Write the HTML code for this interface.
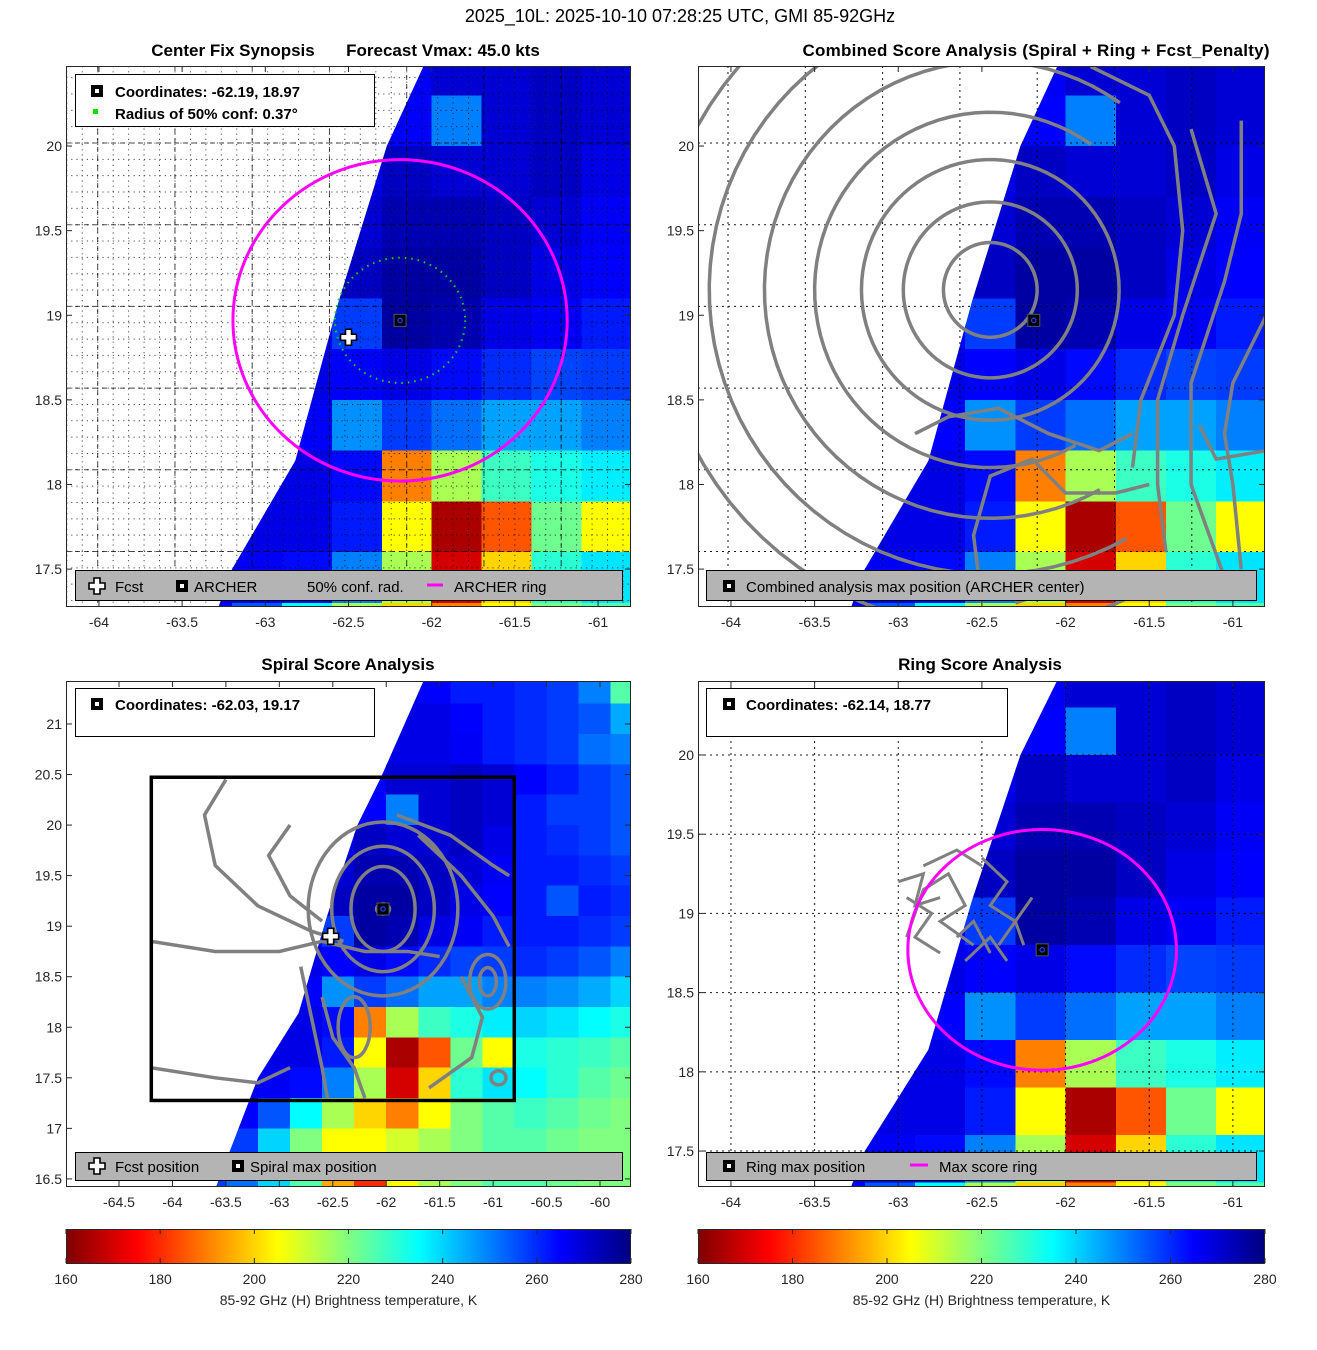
<!DOCTYPE html>
<html><head><meta charset="utf-8"><style>
html,body{margin:0;padding:0;background:#fff;}
svg{display:block;font-family:"Liberation Sans","DejaVu Sans",sans-serif;}
</style></head><body>
<svg id="fig" xmlns="http://www.w3.org/2000/svg" width="1317" height="1350" viewBox="0 0 1317 1350">
<text x="680" y="22" font-size="18" text-anchor="middle" fill="#000">2025_10L: 2025-10-10 07:28:25 UTC, GMI 85-92GHz</text>
<text x="233" y="56" font-size="17" font-weight="bold" text-anchor="middle">Center Fix Synopsis</text>
<text x="443" y="56" font-size="17" font-weight="bold" text-anchor="middle">Forecast Vmax: 45.0 kts</text>
<text x="1036" y="56" font-size="17" font-weight="bold" text-anchor="middle" textLength="467">Combined Score Analysis (Spiral + Ring + Fcst_Penalty)</text>
<text x="348" y="670" font-size="17" font-weight="bold" text-anchor="middle">Spiral Score Analysis</text>
<text x="980" y="670" font-size="17" font-weight="bold" text-anchor="middle">Ring Score Analysis</text>
<g id="layer"></g>
</svg>
<script>
// ---- data ----
const gridLons = [-64.85,-64.55,-64.25,-63.95,-63.65,-63.35,-63.05,-62.75,-62.45,-62.15,-61.85,-61.55,-61.25,-60.95,-60.65,-60.35,-60.05,-59.75];
const gridLats = [21.35,21.05,20.75,20.45,20.15,19.85,19.55,19.25,18.95,18.65,18.35,18.05,17.75,17.45,17.15,16.85,16.55];
const tbRow0  = [0,0,0,0,0,0,0,0,0,0,268,265,262,262,260,258,250,225];
const tbRow1  = [0,0,0,0,0,0,0,0,0,0,268,268,265,262,260,258,255,245];
const tbRow2  = [0,0,0,0,0,0,0,0,0,268,268,268,266,262,260,258,252,250];
const tbRow3  = [0,0,0,0,0,0,0,0,0,266,270,270,272,270,265,262,258,255];
const tbRow4  = [0,0,0,0,0,0,0,0,0,265,250,270,272,270,262,258,258,255];
const tbRow5  = [0,0,0,0,0,0,0,0,268,272,270,270,272,268,262,260,258,255];
const tbRow6  = [0,0,0,0,0,0,0,0,270,274,274,272,270,266,262,262,260,258];
const tbRow7  = [0,0,0,0,0,0,0,268,272,276,276,272,268,265,262,255,262,260];
const tbRow8  = [0,0,0,0,0,0,0,265,258,276,274,268,266,262,262,262,260,258];
const tbRow9  = [0,0,0,0,0,0,0,268,265,268,264,260,257,258,260,258,255,250];
const tbRow10 = [0,0,0,0,0,0,0,265,248,258,252,246,246,250,250,248,245,240];
const tbRow11 = [0,0,0,0,0,0,268,268,264,190,215,228,232,237,240,238,235,232];
const tbRow12 = [0,0,0,0,0,0,268,268,262,205,165,185,222,205,232,230,228,225];
const tbRow13 = [0,0,0,0,0,268,266,264,250,215,170,200,230,238,235,230,225,222];
const tbRow14 = [0,0,0,0,0,265,255,235,215,200,190,205,220,225,228,225,222,220];
const tbRow15 = [0,0,0,0,262,258,240,220,205,205,210,215,220,225,225,222,220,220];
const tbRow16 = [0,0,0,0,258,252,240,225,195,180,205,215,220,225,225,222,220,220];
const tbRows = [tbRow0,tbRow1,tbRow2,tbRow3,tbRow4,tbRow5,tbRow6,tbRow7,tbRow8,tbRow9,tbRow10,tbRow11,tbRow12,tbRow13,tbRow14,tbRow15,tbRow16];
const swathEdgeLats = [16.4,17.5,18.14,19.08,20.0,20.47,21.5];
const swathEdgeLons = [-63.6,-63.2,-62.82,-62.56,-62.27,-62.05,-61.62];
const xTicksSmall = [-64,-63.5,-63,-62.5,-62,-61.5,-61];
const yTicksSmall = [20,19.5,19,18.5,18,17.5];
const xTicksWide = [-64.5,-64,-63.5,-63,-62.5,-62,-61.5,-61,-60.5,-60];
const yTicksWide = [21,20.5,20,19.5,19,18.5,18,17.5,17,16.5];
const cbTicks = [160,180,200,220,240,260,280];
const archerCenter = [-62.19,18.97];
const fcstPos = [-62.50,18.87];
const ringRadiusDeg = 0.95;
const confRadiusDeg = 0.37;
const combinedMax = [-62.19,18.97];
const combinedRingCenter = [-62.45,19.15];
const combinedRingRadii = [0.28,0.52,0.77,1.05,1.35,1.68,2.0];
const spiralMax = [-62.03,19.17];
const spiralFcst = [-62.52,18.9];
const spiralRingRx = [0.06,0.3,0.48,0.7];
const spiralRingRy = [0.05,0.42,0.62,0.86];
const ringMax = [-62.14,18.77];
const ringMaxRadiusDeg = 0.76;

const NS='http://www.w3.org/2000/svg';
const layer=document.getElementById('layer');
function el(tag,attrs,parent){const e=document.createElementNS(NS,tag);for(const k in attrs)e.setAttribute(k,attrs[k]);(parent||layer).appendChild(e);return e;}
function cl(v){return Math.max(0,Math.min(1,v));}
function jet(T){const u=cl((280-T)/120);const r=cl(1.5-Math.abs(4*u-3)),g=cl(1.5-Math.abs(4*u-2)),b=cl(1.5-Math.abs(4*u-1));return 'rgb('+Math.round(r*255)+','+Math.round(g*255)+','+Math.round(b*255)+')';}

const panels=[
 {id:'p1',x0:66,y0:66,w:565,h:541,lonMin:-64.198,lonMax:-60.802,latMin:17.276,latMax:20.473,xt:xTicksSmall,yt:yTicksSmall},
 {id:'p2',x0:698,y0:66,w:567,h:541,lonMin:-64.197,lonMax:-60.808,latMin:17.276,latMax:20.473,xt:xTicksSmall,yt:yTicksSmall},
 {id:'p3',x0:66,y0:681,w:565,h:506,lonMin:-64.996,lonMax:-59.71,latMin:16.42,latMax:21.425,xt:xTicksWide,yt:yTicksWide},
 {id:'p4',x0:698,y0:681,w:567,h:506,lonMin:-64.197,lonMax:-60.808,latMin:17.273,latMax:20.467,xt:xTicksSmall,yt:yTicksSmall}
];
function X(p,lon){return p.x0+(lon-p.lonMin)/(p.lonMax-p.lonMin)*p.w;}
function Y(p,lat){return p.y0+(p.latMax-lat)/(p.latMax-p.latMin)*p.h;}
function sx(p){return p.w/(p.lonMax-p.lonMin);}
function sy(p){return p.h/(p.latMax-p.latMin);}

const defs=el('defs',{});
panels.forEach(p=>{
  const c=el('clipPath',{id:'clip-'+p.id},defs);
  el('rect',{x:p.x0,y:p.y0,width:p.w,height:p.h},c);
  const s=el('clipPath',{id:'swath-'+p.id},defs);
  const pts=swathEdgeLats.map((lat,i)=>[X(p,swathEdgeLons[i]),Y(p,lat)]);
  pts.push([X(p,-59.0),Y(p,swathEdgeLats[swathEdgeLats.length-1])]);
  pts.push([X(p,-59.0),Y(p,swathEdgeLats[0])]);
  el('polygon',{points:pts.map(a=>a.join(',')).join(' ')},s);
});

function drawHeat(p){
  const g=el('g',{'clip-path':'url(#clip-'+p.id+')'});
  
  
  const g2=el('g',{'clip-path':'url(#swath-'+p.id+')','shape-rendering':'crispEdges'},g);
  tbRows.forEach((row,ri)=>{
    row.forEach((v,ci)=>{
      if(!v)return;
      const x1=X(p,gridLons[ci]-0.15),x2=X(p,gridLons[ci]+0.15);
      const y1=Y(p,gridLats[ri]+0.15),y2=Y(p,gridLats[ri]-0.15);
      const r=el('rect',{x:x1,y:y1,width:x2-x1+0.6,height:y2-y1+0.6,fill:jet(v)},g2);
      
      
    });
  });
  return g;
}
function drawAxes(p){
  const f=el('rect',{x:p.x0+0.5,y:p.y0+0.5,width:p.w-1,height:p.h-1,fill:'none',stroke:'#262626','stroke-width':1});
  
  
  p.xt.forEach(t=>{
    const x=X(p,t);
    el('line',{x1:x,y1:p.y0+p.h,x2:x,y2:p.y0+p.h-6,stroke:'#262626'});
    el('line',{x1:x,y1:p.y0,x2:x,y2:p.y0+6,stroke:'#262626'});
    const tx=el('text',{x:x,y:p.y0+p.h+20,'font-size':14,'text-anchor':'middle',fill:'#262626'});
    tx.textContent=String(t);
    
    
  });
  p.yt.forEach(t=>{
    const y=Y(p,t);
    el('line',{x1:p.x0,y1:y,x2:p.x0+6,y2:y,stroke:'#262626'});
    el('line',{x1:p.x0+p.w,y1:y,x2:p.x0+p.w-6,y2:y,stroke:'#262626'});
    const ty=el('text',{x:p.x0-4,y:y+5,'font-size':14,'text-anchor':'end',fill:'#262626'});
    ty.textContent=String(t);
    
    
  });
}
function dotGrid(p,xs,ys,dash,op){
  const g=el('g',{'clip-path':'url(#clip-'+p.id+')',stroke:'#000','stroke-width':1,'stroke-dasharray':dash,opacity:op});
  
  
  xs.forEach(x=>el('line',{x1:x,y1:p.y0,x2:x,y2:p.y0+p.h},g));
  ys.forEach(y=>el('line',{x1:p.x0,y1:y,x2:p.x0+p.w,y2:y},g));
}
function squareMarker(cx,cy,name){
  const g=el('g',{});
  
  
  el('rect',{x:cx-6,y:cy-6,width:12,height:12,fill:'#000',stroke:'#555','stroke-width':1},g);
  el('circle',{cx:cx,cy:cy,r:2.2,fill:'none',stroke:'#2040ff','stroke-width':1.2},g);
}
function legendSquare(cx,cy){
  el('rect',{x:cx-6,y:cy-6,width:12,height:12,fill:'#000'});
  el('rect',{x:cx-2,y:cy-2,width:4,height:4,fill:'#fff'});
}
function cross(cx,cy,name){
  const d='M'+(cx-3)+','+(cy-8)+'h6v5h5v6h-5v5h-6v-5h-5v-6h5z';
  const c=el('path',{d:d,fill:'#fff',stroke:'#000','stroke-width':1.6});
  
  
}
function label(x,y,txt,name,bold,size){
  const t=el('text',{x:x,y:y,'font-size':size||15,'font-weight':bold?'bold':'normal',fill:'#000'});
  t.textContent=txt;
  
  
  return t;
}
function box(x,y,w,h,fill,name){
  const r=el('rect',{x:x+0.5,y:y+0.5,width:w,height:h,fill:fill,stroke:'#000','stroke-width':1});
  
  
}
function circleDeg(p,c,rdeg,attrs,name){
  const rx=rdeg/Math.cos(c[1]*Math.PI/180)*sx(p), ry=rdeg*sy(p);
  const a=Object.assign({cx:X(p,c[0]),cy:Y(p,c[1]),rx:rx,ry:ry,fill:'none','clip-path':'url(#clip-'+p.id+')'},attrs);
  const e=el('ellipse',a);
  
  
}

// ===== Panel 1 =====
(function(){
  const p=panels[0];
  drawHeat(p);
  const xs=[],ys=[],xm=[],ym=[];
  for(let i=-2;i<40;i++){xs.push(97.7+i*15.45); if(i%5===0)xm.push(97.7+i*15.45);}
  for(let i=-5;i<40;i++){ys.push(143+i*16.34); if(i%5===0)ym.push(143+i*16.34);}
  dotGrid(p,xs,ys,'1.2,4',0.7);
  dotGrid(p,xm,ym,'5,4',0.7);
  circleDeg(p,archerCenter,ringRadiusDeg,{stroke:'#ff00ff','stroke-width':3},'archer-ring');
  circleDeg(p,archerCenter,confRadiusDeg,{stroke:'#00e000','stroke-width':2,'stroke-dasharray':'1.5,5'},'conf-radius-circle');
  squareMarker(X(p,archerCenter[0]),Y(p,archerCenter[1]),'archer-center-marker');
  cross(X(p,fcstPos[0]),Y(p,fcstPos[1]),'fcst-marker');
  drawAxes(p);
  box(75,74,299,52,'#fff','panel1-info-box');
  legendSquare(97,91); label(115,97,'Coordinates: -62.19, 18.97','coordinates-text',true);
  el('rect',{x:93,y:109,width:5,height:5,fill:'#00e000'});
  label(115,119,'Radius of 50% conf: 0.37°','conf-radius-text',true);
  box(75,570,547,30,'#b4b4b4','panel1-legend');
  cross(97,586,'legend-fcst-icon'); label(115,592,'Fcst','legend-fcst');
  legendSquare(182,586); label(194,592,'ARCHER','legend-archer');
  label(307,592,'50% conf. rad.','legend-conf-rad');
  el('line',{x1:427,y1:585,x2:443,y2:585,stroke:'#ff00ff','stroke-width':3});
  label(454,592,'ARCHER ring','legend-archer-ring');
})();

// ===== Panel 2 =====
(function(){
  const p=panels[1];
  drawHeat(p);
  const xs=[],ys=[];
  for(let i=-1;i<9;i++)xs.push(728+i*77.3);
  for(let i=-1;i<8;i++)ys.push(143+i*81.7);
  dotGrid(p,xs,ys,'2,4',0.9);
  const g=el('g',{'clip-path':'url(#clip-'+p.id+')'});
  
  
  const cx=X(p,combinedRingCenter[0]),cy=Y(p,combinedRingCenter[1]);
  combinedRingRadii.forEach((r,i)=>{
    const rx=r*sx(p),ry=r*sy(p);
    const a0=i<3?0:55,a1=i<3?360:300;
    const pts=[];
    for(let a=a0;a<=a1;a+=4){const t=a*Math.PI/180;pts.push((cx+rx*Math.cos(t))+','+(cy-ry*Math.sin(t)));}
    const e=el('polyline',{points:pts.join(' '),fill:'none',stroke:'#808080','stroke-width':3.5},g);
    
    
  });
  const east=[
    [[-61.85,20.47],[-61.5,20.3],[-61.35,20.0],[-61.3,19.5],[-61.35,19.0],[-61.55,18.5],[-61.6,18.1]],
    [[-61.25,20.1],[-61.1,19.6],[-61.3,19.0],[-61.45,18.5],[-61.45,18.0],[-61.4,17.6]],
    [[-60.95,20.15],[-60.95,19.6],[-61.05,19.2],[-61.25,18.6],[-61.25,18.0],[-61.05,17.45]],
    [[-60.8,19.0],[-61.0,18.6],[-61.05,18.3],[-61.0,18.0],[-60.95,17.5]],
    [[-62.5,17.3],[-62.55,17.7],[-62.45,18.05],[-62.2,18.15],[-62.0,17.95],[-61.7,17.95],[-61.5,18.0]],
    [[-62.9,18.3],[-62.7,18.4],[-62.4,18.45],[-62.1,18.3],[-61.8,18.2],[-61.6,18.3]],
    [[-61.2,18.35],[-61.1,18.15],[-60.8,18.2]],
    [[-62.3,17.3],[-62.0,17.4],[-61.8,17.4]]
  ];
  east.forEach(line=>{
    const ln=el('polyline',{points:line.map(a=>X(p,a[0])+','+Y(p,a[1])).join(' '),fill:'none',stroke:'#808080','stroke-width':3.5},g);
    
    
  });
  squareMarker(X(p,combinedMax[0]),Y(p,combinedMax[1]),'combined-max-marker');
  drawAxes(p);
  box(706,570,550,30,'#b4b4b4','panel2-legend');
  legendSquare(729,586); label(746,592,'Combined analysis max position (ARCHER center)','legend-combined-max');
})();

// ===== Panel 3 =====
(function(){
  const p=panels[2];
  drawHeat(p);
  const bx1=X(p,-64.198),bx2=X(p,-60.802),by1=Y(p,20.473),by2=Y(p,17.276);
  const cp=el('clipPath',{id:'clip-box3'},defs);
  el('rect',{x:bx1,y:by1,width:bx2-bx1,height:by2-by1},cp);
  const g=el('g',{'clip-path':'url(#clip-box3)'});
  
  
  spiralRingRx.forEach((rx,i)=>{
    const e=el('ellipse',{cx:X(p,spiralMax[0]),cy:Y(p,spiralMax[1]),rx:rx*sx(p),ry:spiralRingRy[i]*sy(p),fill:'none',stroke:'#808080','stroke-width':3.5},g);
    
    
  });
  const lines=[
    [[-64.2,18.85],[-63.6,18.75],[-63.0,18.75],[-62.6,18.85],[-62.2,18.75],[-61.8,18.75],[-61.5,18.7]],
    [[-64.2,17.6],[-63.6,17.5],[-63.2,17.45],[-62.9,17.6]],
    [[-63.5,20.45],[-63.7,20.1],[-63.6,19.6],[-63.2,19.2],[-62.7,18.95],[-62.4,18.85]],
    [[-62.9,20.0],[-63.1,19.7],[-62.9,19.3],[-62.6,19.05]],
    [[-62.8,18.6],[-62.7,18.1],[-62.6,17.6],[-62.55,17.3]],
    [[-62.6,18.3],[-62.5,17.9],[-62.3,17.6],[-62.2,17.3]],
    [[-61.3,18.5],[-61.1,18.1],[-61.2,17.7],[-61.6,17.4]],
    [[-61.7,19.9],[-61.3,19.5],[-61.0,19.1],[-60.85,18.8]],
    [[-61.9,20.1],[-61.4,19.9],[-61.0,19.6],[-60.85,19.5]]
  ];
  lines.forEach(line=>{
    const ln=el('polyline',{points:line.map(a=>X(p,a[0])+','+Y(p,a[1])).join(' '),fill:'none',stroke:'#808080','stroke-width':3.5},g);
    
    
  });
  [[-61.05,18.45,0.17,0.27],[-61.05,18.45,0.08,0.14],[-60.95,17.5,0.07,0.07],[-62.3,18.0,0.15,0.3]].forEach(a=>{
    const e=el('ellipse',{cx:X(p,a[0]),cy:Y(p,a[1]),rx:a[2]*sx(p),ry:a[3]*sy(p),fill:'none',stroke:'#808080','stroke-width':3.5},g);
    
    
  });
  const r=el('rect',{x:bx1,y:by1,width:bx2-bx1,height:by2-by1,fill:'none',stroke:'#000','stroke-width':3.5});
  
  
  squareMarker(X(p,spiralMax[0]),Y(p,spiralMax[1]),'spiral-max-marker');
  cross(X(p,spiralFcst[0]),Y(p,spiralFcst[1]),'spiral-fcst-marker');
  drawAxes(p);
  box(75,688,299,48,'#fff','panel3-info-box');
  legendSquare(97,704); label(115,710,'Coordinates: -62.03, 19.17','coordinates-text',true);
  box(75,1152,547,28,'#b4b4b4','panel3-legend');
  cross(97,1166,'legend-fcst-icon'); label(115,1172,'Fcst position','legend-fcst-position');
  legendSquare(238,1166); label(250,1172,'Spiral max position','legend-spiral-max');
})();

// ===== Panel 4 =====
(function(){
  const p=panels[3];
  drawHeat(p);
  const xs=[],ys=[];
  [-64,-63.5,-63,-62.5,-62,-61.5,-61].forEach(v=>xs.push(X(p,v)));
  [20,19.5,19,18.5,18,17.5].forEach(v=>ys.push(Y(p,v)));
  dotGrid(p,xs,ys,'2,4',0.9);
  const g=el('g',{fill:'none',stroke:'#808080','stroke-width':3});
  
  
  const scr=[
    [[-62.95,18.85],[-62.85,19.15],[-62.7,19.25],[-62.6,19.05],[-62.75,18.95],[-62.55,18.8]],
    [[-62.5,19.35],[-62.35,19.2],[-62.45,19.05],[-62.3,18.95],[-62.4,18.8]],
    [[-62.85,19.3],[-62.65,19.4],[-62.5,19.3]],
    [[-62.2,19.1],[-62.3,18.95],[-62.25,18.8]],
    [[-62.6,18.7],[-62.45,18.85],[-62.35,18.7]],
    [[-62.95,19.1],[-62.8,19.0],[-62.9,18.85],[-62.75,18.75]],
    [[-63.0,19.2],[-62.85,19.25],[-62.9,19.05],[-62.75,19.1]],
    [[-62.65,18.85],[-62.55,18.95],[-62.45,18.75]]
  ];
  scr.forEach(line=>{
    const ln=el('polyline',{points:line.map(a=>X(p,a[0])+','+Y(p,a[1])).join(' ')},g);
    
    
  });
  circleDeg(p,ringMax,ringMaxRadiusDeg,{stroke:'#ff00ff','stroke-width':3},'max-score-ring');
  squareMarker(X(p,ringMax[0]),Y(p,ringMax[1]),'ring-max-marker');
  drawAxes(p);
  box(706,688,301,48,'#fff','panel4-info-box');
  legendSquare(729,704); label(746,710,'Coordinates: -62.14, 18.77','coordinates-text',true);
  box(706,1152,550,28,'#b4b4b4','panel4-legend');
  legendSquare(729,1166); label(746,1172,'Ring max position','legend-ring-max');
  el('line',{x1:910,y1:1165,x2:928,y2:1165,stroke:'#ff00ff','stroke-width':3});
  label(939,1172,'Max score ring','legend-max-score-ring');
})();

// ===== Colorbars =====
(function(){
  const grad=el('linearGradient',{id:'jetgrad',x1:0,x2:1,y1:0,y2:0},defs);
  for(let i=0;i<=24;i++){const T=160+i*5;el('stop',{offset:(i/24),'stop-color':jet(T)},grad);}
  [[66,565,'left'],[698,567,'right']].forEach(c=>{
    const r=el('rect',{x:c[0]+0.5,y:1229.5,width:c[1]-1,height:34,fill:'url(#jetgrad)',stroke:'#262626'});
    
    
    cbTicks.forEach(t=>{
      const x=c[0]+(t-160)/120*c[1];
      el('line',{x1:x,y1:1229,x2:x,y2:1234,stroke:'#262626'});
      el('line',{x1:x,y1:1263,x2:x,y2:1258,stroke:'#262626'});
      const tx=el('text',{x:x,y:1284,'font-size':14,'text-anchor':'middle',fill:'#262626'});
      tx.textContent=String(t);
      
      
    });
    const lb=el('text',{x:c[0]+c[1]/2,y:1305,'font-size':14,'text-anchor':'middle',fill:'#262626'});
    lb.textContent='85-92 GHz (H) Brightness temperature, K';
    
    
  });
})();
</script>
</body></html>
